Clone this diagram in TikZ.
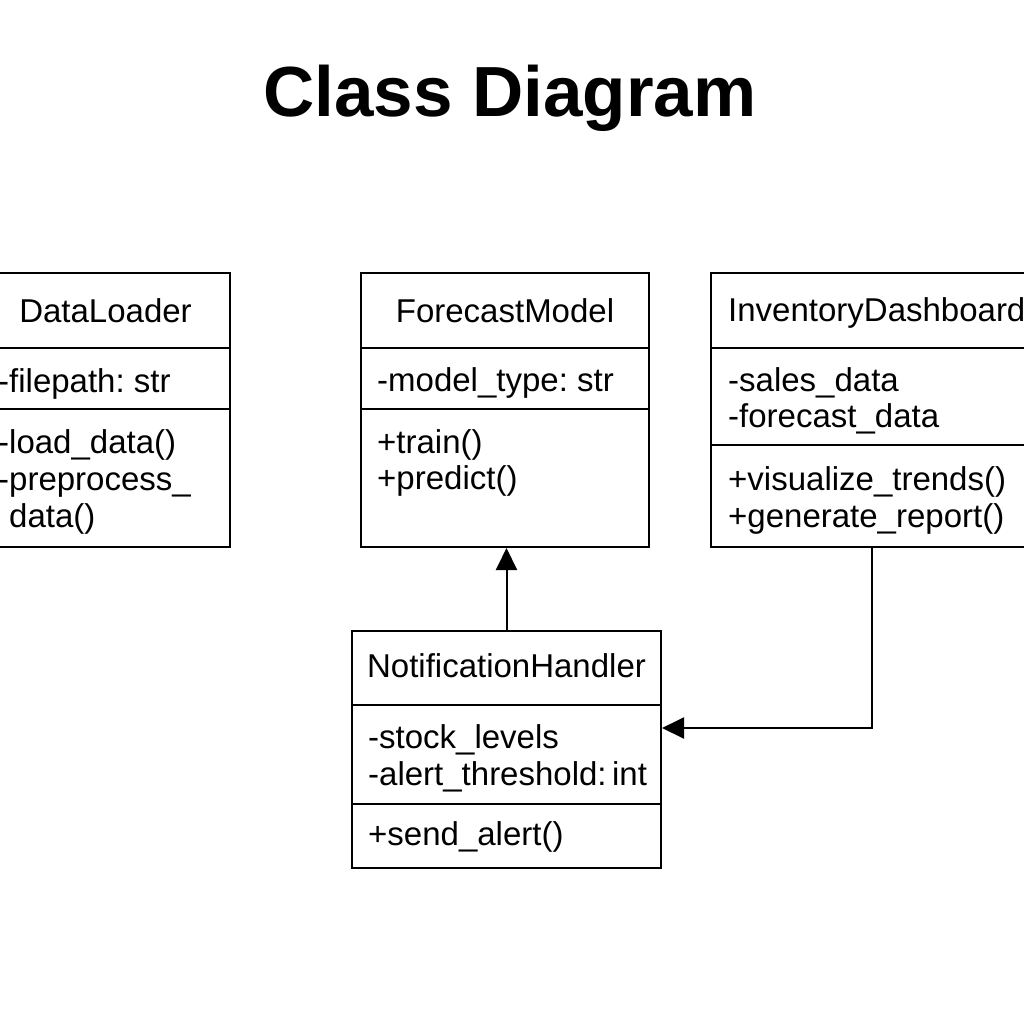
\documentclass[tikz,border=0pt]{standalone}
\usepackage{fontspec}
\setmainfont{Liberation Sans}
\usetikzlibrary{arrows.meta}
\frenchspacing
\begin{document}
\begin{tikzpicture}[x=1pt,y=-1pt,
  classbox/.style={draw=black, line width=2pt, rectangle, inner sep=0pt, anchor=north west, fill=none},
  sepline/.style={draw=black, line width=2pt},
  txt/.style={inner sep=0pt, anchor=base west, font=\fontsize{33}{37}\selectfont},
  ctitle/.style={inner sep=0pt, anchor=base, font=\fontsize{33}{37}\selectfont},
  arr/.style={draw=black, line width=2pt, -{Triangle[length=22pt,width=21pt]}}
]
\useasboundingbox (0,0) rectangle (1024,1024);
\fill[white] (0,0) rectangle (1024,1024);

% Title
\node[inner sep=0pt, anchor=base, font=\fontsize{71}{80}\selectfont\bfseries] (title) at (510,117) {Class Diagram};

% DataLoader
\node[classbox, minimum width=249pt, minimum height=274pt] (dl) at (-20,272) {};
\draw[sepline] (dl.west |- 0,348) -- (dl.east |- 0,348);
\draw[sepline] (dl.west |- 0,409) -- (dl.east |- 0,409);
\node[ctitle] (dlname) at (dl.north |- 0,322) {DataLoader};
\node[txt] (dla1) at (-2,392) {-filepath: str};
\node[txt] (dlm1) at (-2,453) {-load\_data()};
\node[txt] (dlm2) at (-2,490) {-preprocess\_};
\node[txt] (dlm3) at (-2,527) {\phantom{-}data()};

% ForecastModel
\node[classbox, minimum width=288pt, minimum height=274pt] (fm) at (360,272) {};
\draw[sepline] (fm.west |- 0,348) -- (fm.east |- 0,348);
\draw[sepline] (fm.west |- 0,409) -- (fm.east |- 0,409);
\node[ctitle] (fmname) at (fm.north |- 0,322) {ForecastModel};
\node[txt] (fma1) at (377,391) {-model\_type: str};
\node[txt] (fmm1) at (377,453) {+train()};
\node[txt] (fmm2) at (377,489) {+predict()};

% InventoryDashboard
\node[classbox, minimum width=330pt, minimum height=274pt] (id) at (710,272) {};
\draw[sepline] (id.west |- 0,348) -- (id.east |- 0,348);
\draw[sepline] (id.west |- 0,445) -- (id.east |- 0,445);
\node[txt] (idname) at (728,321) {InventoryDashboard};
\node[txt] (ida1) at (728,391) {-sales\_data};
\node[txt] (ida2) at (728,427) {-forecast\_data};
\node[txt] (idm1) at (728,490) {+visualize\_trends()};
\node[txt] (idm2) at (728,527) {+generate\_report()};

% NotificationHandler
\node[classbox, minimum width=309pt, minimum height=237pt] (nh) at (351,630) {};
\draw[sepline] (nh.west |- 0,705) -- (nh.east |- 0,705);
\draw[sepline] (nh.west |- 0,804) -- (nh.east |- 0,804);
\node[ctitle] (nhname) at (nh.north |- 0,677) {NotificationHandler};
\node[txt] (nha1) at (368,748) {-stock\_levels};
\node[txt] (nha2) at (368,785) {-alert\_threshold:\,int};
\node[txt] (nhm1) at (368,845) {+send\_alert()};

% Connectors
\draw[arr] (nh.north) -- (nh.north |- fm.south);
\coordinate (bend) at (872,728);
\draw[arr] (id.south -| bend) -- (bend) -- (nh.east |- bend);
\end{tikzpicture}
\end{document}
